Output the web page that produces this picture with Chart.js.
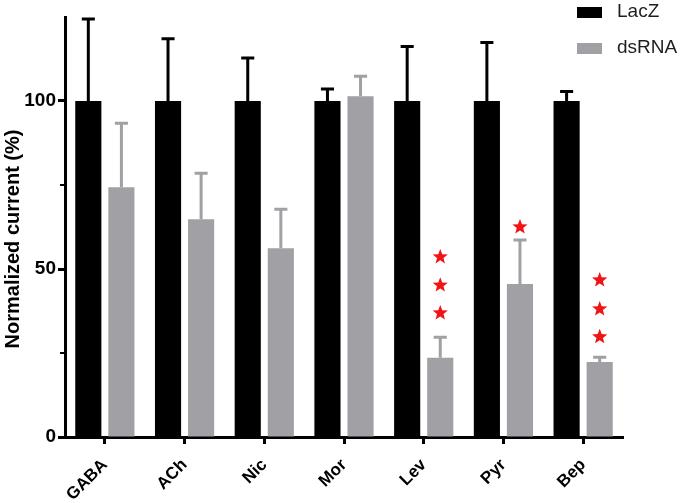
<!DOCTYPE html>
<html>
<head>
<meta charset="utf-8">
<script src="https://cdn.jsdelivr.net/npm/chart.js@4.4.1/dist/chart.umd.min.js"></script>
<style>
  html, body { margin: 0; padding: 0; background: #fff; }
  #wrap { width: 680px; height: 503px; position: relative; }
</style>
</head>
<body>
<div id="wrap"><canvas id="barChart"></canvas></div>
<script>
// data
const labels = ['GABA', 'ACh', 'Nic', 'Mor', 'Lev', 'Pyr', 'Bep'];
const lacz = [100, 100, 100, 100, 100, 100, 100];
const laczErr = [24.4, 18.5, 12.8, 3.6, 16.2, 17.4, 2.8];
const dsrna = [74.3, 64.8, 56.2, 101.4, 23.6, 45.5, 22.3];
const dsrnaErr = [19.1, 13.7, 11.6, 6.0, 6.1, 13.1, 1.4];
// significance stars, y value of each star above the dsRNA bar
const stars = [[], [], [], [], [53.6, 45.2, 36.9], [62.5], [46.7, 38.1, 29.8]];
const yTicks = [0, 50, 100];
const yMinorTicks = [25, 75];
const yTitle = 'Normalized current (%)';

const black = '#000000';
const grey = '#a1a1a5';
const fontFam = "'Liberation Sans', Arial, sans-serif";

Chart.defaults.font.family = fontFam;
Chart.defaults.color = '#000';

function drawStar(c, x, y, rOut, rIn) {
    c.beginPath();
    for (let k = 0; k < 10; k++) {
        const r = k % 2 === 0 ? rOut : rIn;
        const a = -Math.PI / 2 + k * Math.PI / 5;
        const px = x + r * Math.cos(a);
        const py = y + r * Math.sin(a);
        if (k === 0) c.moveTo(px, py); else c.lineTo(px, py);
    }
    c.closePath();
    c.fill();
}

const extras = {
    id: 'extras',
    afterDatasetsDraw(chart) {
        const c = chart.ctx;
        const y = chart.scales.y;
        const area = chart.chartArea;
        const errs = [laczErr, dsrnaErr];
        const cols = [black, grey];
        c.save();
        // error bars (upper only)
        [0, 1].forEach(d => {
            const meta = chart.getDatasetMeta(d);
            meta.data.forEach((bar, i) => {
                const val = chart.data.datasets[d].data[i];
                const top = y.getPixelForValue(val + errs[d][i]);
                const half = bar.width / 4;
                c.strokeStyle = cols[d];
                c.lineWidth = 3;
                c.beginPath();
                c.moveTo(bar.x, bar.y);
                c.lineTo(bar.x, top);
                c.moveTo(bar.x - half, top);
                c.lineTo(bar.x + half, top);
                c.stroke();
            });
        });
        // stars
        const meta1 = chart.getDatasetMeta(1);
        c.fillStyle = '#f01414';
        stars.forEach((list, i) => {
            list.forEach(v => drawStar(c, meta1.data[i].x, y.getPixelForValue(v), 8, 3.4));
        });
        // minor y ticks
        c.strokeStyle = black;
        c.lineWidth = 2;
        yMinorTicks.forEach(v => {
            const py = y.getPixelForValue(v);
            c.beginPath();
            c.moveTo(area.left - 5, py);
            c.lineTo(area.left, py);
            c.stroke();
        });
        // y axis title
        c.save();
        c.translate(13, (area.top + area.bottom) / 2 + 12);
        c.rotate(-Math.PI / 2);
        c.textAlign = 'center';
        c.textBaseline = 'middle';
        c.fillStyle = black;
        c.font = "bold 20px " + fontFam;
        c.fillText(yTitle, 0, 0);
        c.restore();
        // legend
        c.textBaseline = 'middle';
        c.textAlign = 'left';
        c.font = "19px " + fontFam;
        chart.data.datasets.forEach((ds, d) => {
            const ly = 12 + d * 36;
            c.fillStyle = ds.backgroundColor;
            c.fillRect(577, ly - 5, 25, 11);
            c.fillStyle = '#1e1e1e';
            c.fillText(ds.label, 617, ly);
        });
        c.restore();
    }
};

const graph = new Chart(document.getElementById('barChart'), {
    type: 'bar',
    data: {
        labels: labels,
        datasets: [{
            label: 'LacZ',
            data: lacz,
            backgroundColor: black,
            categoryPercentage: 0.83,
            barPercentage: 0.79
        },
        {
            label: 'dsRNA',
            data: dsrna,
            backgroundColor: grey,
            categoryPercentage: 0.83,
            barPercentage: 0.79
        }]
    },
    plugins: [extras],
    options: {
        responsive: true,
        maintainAspectRatio: false,
        animation: false,
        layout: {
            padding: { top: 17, right: 57, left: 0, bottom: 0 }
        },
        plugins: {
            legend: { display: false },
            tooltip: { enabled: false }
        },
        scales: {
            x: {
                afterFit: s => { s.height = 66; },
                grid: {
                    offset: false,
                    drawOnChartArea: false,
                    tickLength: 7,
                    tickWidth: 3,
                    tickColor: black
                },
                border: { width: 3, color: black },
                ticks: {
                    minRotation: 45,
                    maxRotation: 45,
                    padding: 11,
                    font: { size: 17, weight: 'bold' }
                }
            },
            y: {
                min: 0,
                max: 125,
                afterFit: s => { s.width = 65; },
                afterBuildTicks: s => { s.ticks = yTicks.map(v => ({ value: v })); },
                grid: {
                    drawOnChartArea: false,
                    tickLength: 7,
                    tickWidth: 3,
                    tickColor: black
                },
                border: { width: 3, color: black },
                ticks: {
                    padding: 2,
                    font: { size: 19, weight: 'bold' }
                }
            }
        }
    }
});
</script>
</body>
</html>
